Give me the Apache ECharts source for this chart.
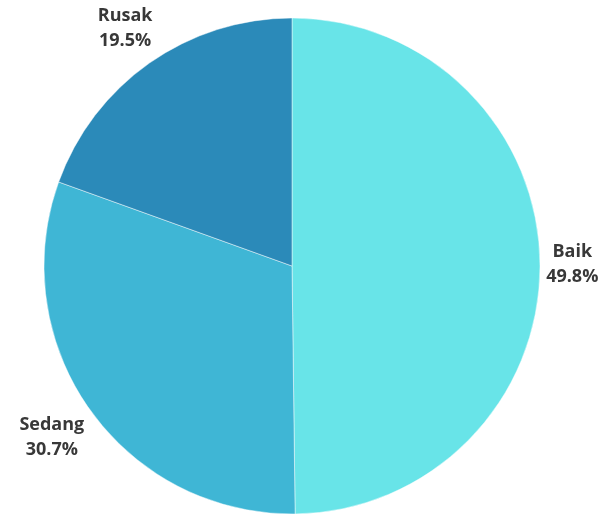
<!DOCTYPE html>
<html>
<head>
<meta charset="utf-8">
<script src="https://cdn.jsdelivr.net/npm/echarts@6/dist/echarts.min.js"></script>
<style>
  html, body { margin: 0; padding: 0; background: #fff; }
  #chart { width: 603px; height: 515px; }
</style>
</head>
<body>
<div id="chart"></div>
<script>
// Kondisi: share of each category (percent)
const categories = ['Baik', 'Sedang', 'Rusak'];
const values = [49.8, 30.7, 19.5];
const colors = ['#68E4E8', '#3FB6D5', '#2B8AB9'];

const CENTER = [292, 266];
const RADIUS = 248;
const LABEL_GAP = 6;

const total = values.reduce((a, b) => a + b, 0);
// mid-angle (clockwise from 12 o'clock) of each slice, in radians
const midAngles = [];
let acc = 0;
values.forEach(v => {
  midAngles.push(((acc + v / 2) / total) * Math.PI * 2);
  acc += v;
});

const chart = echarts.init(document.getElementById('chart'), null, { renderer: 'canvas' });

chart.setOption({
  animation: false,
  series: [{
    type: 'pie',
    center: CENTER,
    radius: RADIUS,
    startAngle: 90,
    clockwise: true,
    data: categories.map((name, i) => ({
      name: name,
      value: values[i],
      itemStyle: { color: colors[i] }
    })),
    itemStyle: {
      borderColor: 'rgba(255,255,255,0.45)',
      borderWidth: 1
    },
    label: {
      show: true,
      position: 'inside',
      overflow: 'none',
      formatter: p => p.name + '\n' + p.value.toFixed(1) + '%',
      fontFamily: '"Open Sans", sans-serif',
      fontWeight: 'bold',
      fontSize: 18,
      lineHeight: 25,
      color: '#383838',
      textBorderWidth: 0
    },
    labelLine: { show: false },
    emphasis: { disabled: true },
    // place each label just outside the rim along its slice's mid-angle
    labelLayout: function (params) {
      const a = midAngles[params.dataIndex];
      const dx = Math.sin(a);
      const dy = -Math.cos(a);
      const hw = params.labelRect.width / 2;
      const hh = params.labelRect.height / 2;
      const dist = RADIUS + LABEL_GAP + hw * Math.abs(dx) + hh * Math.abs(dy);
      return {
        x: CENTER[0] + dist * dx,
        y: CENTER[1] + dist * dy,
        align: 'center',
        verticalAlign: 'middle'
      };
    }
  }]
});
</script>
</body>
</html>
